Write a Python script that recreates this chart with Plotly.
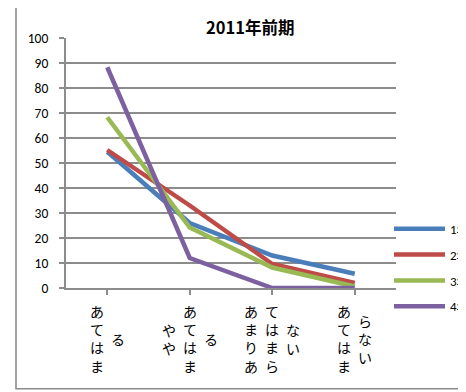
import plotly.graph_objects as go

categories = ["あてはまる", "ややあてはまる", "あまりあてはまらない", "あてはまらない"]
# how each category label wraps into vertical columns (as in the original)
label_columns = [["あてはま", "る"], ["やや", "あてはま", "る"],
                 ["あまりあ", "てはまら", "ない"], ["あてはま", "らない"]]
series_names = ["1年", "2年", "3年", "4年"]
values_1 = [54.5, 26, 13, 5.7]
values_2 = [55.2, 33, 9.6, 2]
values_3 = [68.3, 24.2, 8.2, 0.6]
values_4 = [88.3, 12, 0, 0]
colors = ["#4a7ebb", "#be4b48", "#98b954", "#7d60a0"]
y_ticks = list(range(0, 101, 10))

FONT = "Calibri, Carlito, 'Liberation Sans', 'Noto Sans CJK JP', sans-serif"
JP = "'Noto Sans CJK JP', sans-serif"
GRID = "#8c8c8c"


def px_x(xw):  # window x pixel -> paper
    return (xw - 66) / 330


def px_y(yw):  # window y pixel -> paper
    return (288.3 - yw) / 250


fig = go.Figure()
x_idx = list(range(len(categories)))
for name, vals, col in zip(series_names, [values_1, values_2, values_3, values_4], colors):
    fig.add_trace(go.Scatter(x=x_idx, y=vals, name=name, mode="lines",
                             line=dict(color=col, width=4.5), legendgroup=name))

annotations = []
for i, cols in enumerate(label_columns):
    n = len(cols)
    for j, c in enumerate(cols):
        annotations.append(dict(
            x=i, xref="x", y=px_y(339), yref="paper", yanchor="middle", xanchor="center",
            xshift=(j - (n - 1) / 2) * 21, showarrow=False,
            text="<br>".join(list(c)), font=dict(family=JP, size=14, color="#000"),
        ))

annotations.append(dict(
    x=px_x(250), xref="paper", y=px_y(27), yref="paper",
    text="<b>2011年前期</b>", showarrow=False, xanchor="center", yanchor="middle",
    font=dict(family=JP, size=16.5, color="#000")))

fig.update_layout(
    width=458, height=384,
    margin=dict(l=58, r=70, t=30, b=104, autoexpand=False),
    paper_bgcolor="white", plot_bgcolor="white",
    font=dict(family=FONT, size=12, color="#000"),
    showlegend=True,
    legend=dict(x=px_x(389), xanchor="left", y=px_y(214), yanchor="top",
                bgcolor="rgba(0,0,0,0)", font=dict(family=FONT, size=13),
                tracegroupgap=6, itemwidth=51),
    annotations=annotations,
    shapes=[dict(type="rect", xref="paper", yref="paper",
                 x0=px_x(16), x1=px_x(490),
                 y0=px_y(389), y1=px_y(4),
                 line=dict(color=GRID, width=1.6), fillcolor="rgba(0,0,0,0)", layer="below")],
)
fig.update_xaxes(range=[-0.5, 3.5], tickvals=x_idx, ticktext=["" for _ in categories],
                 showgrid=False, showline=True, linecolor=GRID, linewidth=2,
                 ticks="outside", ticklen=5, tickcolor=GRID, tickwidth=1.5,
                 tickson="boundaries", zeroline=False, fixedrange=True)
fig.update_yaxes(range=[0, 100], tickvals=y_ticks, showgrid=True, gridcolor=GRID, gridwidth=1.5,
                 showline=True, linecolor=GRID, linewidth=2, ticks="outside", ticklen=5,
                 tickcolor=GRID, tickwidth=1.5, zeroline=False, ticklabelstandoff=8,
                 tickfont=dict(family=FONT, size=13.5), fixedrange=True)

fig.write_html("out.html")
